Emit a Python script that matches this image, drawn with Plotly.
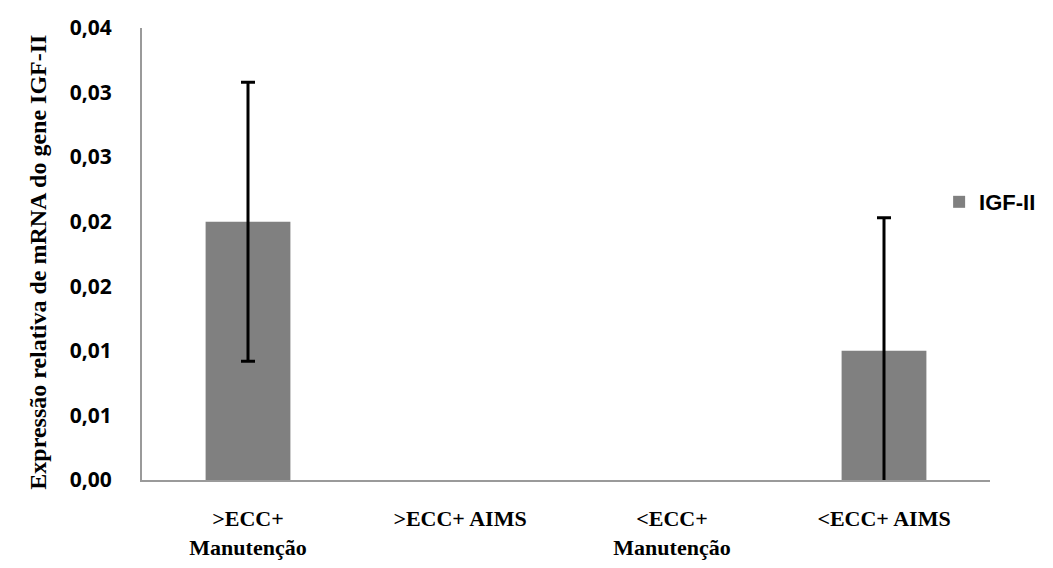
import plotly.graph_objects as go

categories = [">ECC+<br>Manutenção", ">ECC+ AIMS", "<ECC+<br>Manutenção", "<ECC+ AIMS"]
values = [0.020, None, None, 0.010]
errors = [0.0108, None, None, 0.0103]
series_name = "IGF-II"
y_title = "Expressão relativa de mRNA do gene IGF-II"
tick_vals = [0, 0.005, 0.01, 0.015, 0.02, 0.025, 0.03, 0.035]
tick_text = ["0,00", "0,01", "0,01", "0,02", "0,02", "0,03", "0,03", "0,04"]

SERIF = "Liberation Serif, Times New Roman, serif"

fig = go.Figure()
fig.add_trace(go.Bar(
    x=categories, y=values, name="<b>" + series_name + "</b>",
    marker=dict(color="#808080", line=dict(width=0)),
    error_y=dict(type="data", array=errors, visible=True,
                 color="black", thickness=3, width=7),
    showlegend=True,
))

fig.update_layout(
    width=1053, height=568,
    margin=dict(l=142, r=58, t=28, b=88),
    paper_bgcolor="white", plot_bgcolor="white",
    bargap=0.6,
    showlegend=True,
    legend=dict(x=0.94, y=0.615, xanchor="left", yanchor="middle",
                font=dict(family="Liberation Sans", size=22, color="black"),
                bgcolor="rgba(0,0,0,0)"),
    xaxis=dict(showline=True, linecolor="#9a9a9a", linewidth=2,
               showgrid=False, ticks="", automargin=False,
               tickvals=categories,
               ticktext=["<b>" + c + "</b>" for c in categories],
               ticklabelstandoff=18,
               tickfont=dict(family=SERIF, size=22, color="black"),
               fixedrange=True),
    yaxis=dict(range=[0, 0.035], showline=True, linecolor="#9a9a9a", linewidth=2,
               showgrid=False, ticks="", zeroline=False, automargin=False,
               tickvals=tick_vals, ticktext=["<b>" + t + "</b>" for t in tick_text],
               ticklabelstandoff=24,
               tickfont=dict(family="Open Sans", size=21, color="black"),
               fixedrange=True),
    annotations=[dict(
        text="<b>" + y_title + "</b>", textangle=-90,
        xref="paper", yref="paper", x=-0.122, y=0.482,
        xanchor="center", yanchor="middle", showarrow=False,
        font=dict(family=SERIF, size=24, color="black"),
    )],
)

fig.write_html("out.html")
